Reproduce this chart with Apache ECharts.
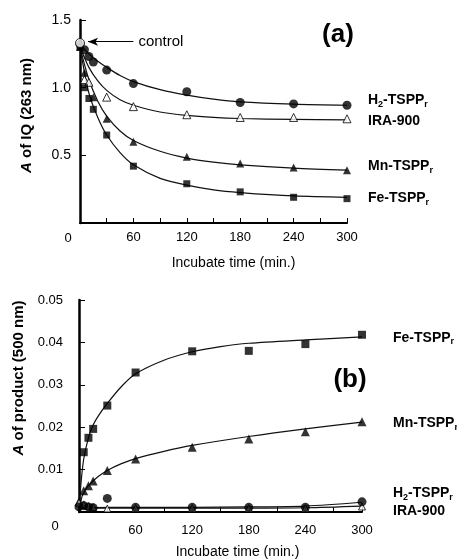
<!DOCTYPE html>
<html><head><meta charset="utf-8">
<script src="https://cdn.jsdelivr.net/npm/echarts@6/dist/echarts.min.js"></script>
<style>html,body{margin:0;padding:0;background:#fff}#c{width:457px;height:560px}</style>
</head><body><div id="c"></div>
<script>
// ---------- data ----------
// panel (a): absorbance of IQ at 263 nm vs incubation time (min)
const aControl = [[0, 1.33]];
const aH2  = [[0,1.32],[5,1.28],[10,1.23],[15,1.19],[30,1.13],[60,1.03],[120,0.97],[180,0.89],[240,0.88],[300,0.87]];
const aIRA = [[5,1.06],[10,1.04],[30,0.93],[60,0.86],[120,0.80],[180,0.78],[240,0.78],[300,0.77]];
const aMn  = [[0,1.30],[5,1.11],[15,0.93],[30,0.77],[60,0.60],[120,0.49],[180,0.44],[240,0.41],[300,0.39]];
const aFe  = [[0,1.30],[5,1.00],[10,0.92],[15,0.84],[30,0.65],[60,0.42],[120,0.29],[180,0.23],[240,0.19],[300,0.18]];
// fitted curves of panel (a)
const aH2Fit  = [[0,1.32],[10,1.25],[20,1.195],[30,1.15],[45,1.09],[60,1.045],[90,0.985],[120,0.945],[150,0.915],[180,0.895],[240,0.878],[300,0.87]];
const aIRAFit = [[0,1.30],[10,1.15],[20,1.05],[30,0.98],[45,0.91],[60,0.87],[90,0.82],[120,0.795],[150,0.78],[180,0.772],[240,0.765],[300,0.762]];
const aMnFit  = [[0,1.30],[10,1.06],[20,0.90],[30,0.79],[45,0.68],[60,0.61],[90,0.53],[120,0.48],[150,0.45],[180,0.43],[240,0.405],[300,0.39]];
const aFeFit  = [[0,1.30],[10,0.96],[20,0.78],[30,0.65],[45,0.52],[60,0.43],[90,0.33],[120,0.28],[150,0.245],[180,0.225],[240,0.20],[300,0.19]];

// panel (b): absorbance of product at 500 nm vs incubation time (min)
const bFe  = [[5,0.0141],[10,0.0175],[15,0.0196],[30,0.0251],[60,0.0329],[120,0.0379],[180,0.0380],[240,0.0396],[300,0.0418]];
const bMn  = [[0,0.0025],[5,0.0050],[10,0.0062],[15,0.0073],[30,0.0098],[60,0.0125],[120,0.0153],[180,0.0172],[240,0.0189],[300,0.0213]];
const bH2  = [[0,0.0012],[5,0.0015],[10,0.0012],[15,0.0010],[30,0.0032],[60,0.0011],[120,0.0011],[180,0.0011],[240,0.0011],[300,0.0024]];
const bIRA = [[0,0.0022],[5,0.0018],[10,0.0014],[15,0.0012],[30,0.0008],[60,0.0009],[120,0.0009],[180,0.0009],[240,0.0009],[300,0.0013]];
// fitted curves of panel (b)
const bFeFit  = [[0,0],[2,0.0065],[5,0.0125],[10,0.0175],[15,0.0205],[20,0.0225],[30,0.0256],[45,0.0296],[60,0.0326],[90,0.0358],[120,0.0378],[150,0.0390],[180,0.0398],[240,0.0406],[300,0.0413]];
const bMnFit  = [[0,0],[3,0.0035],[5,0.0045],[10,0.0062],[20,0.0083],[30,0.0098],[45,0.0114],[60,0.0126],[90,0.0143],[120,0.0157],[180,0.0178],[240,0.0196],[300,0.0212]];
const bH2Fit  = [[0,0.0010],[60,0.0011],[120,0.0011],[180,0.0012],[240,0.0014],[300,0.0023]];
const bIRAFit = [[0,0.0009],[60,0.0009],[120,0.0009],[180,0.0009],[240,0.0010],[300,0.0014]];

const xMajor = [60,120,180,240,300];
const aYTicks = [0.5,1.0,1.5];
const bYTicks = [0.01,0.02,0.03,0.04,0.05];

// ---------- chart ----------
const FONT = 'Liberation Sans, Arial, Helvetica, sans-serif';
const subRich = {
  m: {fontSize: 14, fontWeight: 'bold', fontFamily: FONT, color: '#000'},
  s: {fontSize: 9, fontWeight: 'bold', fontFamily: FONT, color: '#000', padding: [8,0,0,0]}
};
const LBL = {
  H2: '{m|H}{s|2}{m|-TSPP}{s|r}',
  IRA: '{m|IRA-900}',
  Mn: '{m|Mn-TSPP}{s|r}',
  Fe: '{m|Fe-TSPP}{s|r}'
};

function xAxisCfg(gridIndex, labelMargin, namePad) {
  return {
    type: 'value', gridIndex, min: 0, max: 300, interval: 30,
    name: 'Incubate time (min.)', nameLocation: 'middle', nameGap: 33,
    nameTextStyle: {fontFamily: FONT, fontSize: 14, color: '#000', padding: [0,0,0,namePad]},
    axisLine: {show: true, lineStyle: {color: '#000', width: 2}},
    axisTick: {show: true, inside: true, length: 5, lineStyle: {color: '#000', width: 1}},
    splitLine: {show: false},
    axisLabel: {
      color: '#000', fontFamily: FONT, fontSize: 13, margin: labelMargin,
      formatter: v => xMajor.includes(v) ? String(v) : ''
    }
  };
}

function fitLine(name, xi, data, label, dist, off) {
  return {
    type: 'line', name, xAxisIndex: xi, yAxisIndex: xi, data,
    symbol: 'none', showSymbol: false, smooth: 0.3,
    lineStyle: {color: '#111', width: 1.2}, z: 2, silent: true,
    endLabel: {show: true, formatter: label, distance: dist, offset: off, rich: subRich, color: '#000'}
  };
}
function pts(name, xi, data, symbol, size, filled) {
  return {
    type: 'scatter', name, xAxisIndex: xi, yAxisIndex: xi, data,
    symbol, symbolSize: size, z: 5, silent: true,
    itemStyle: filled ? {color: '#000'} : {color: '#fff', borderColor: '#000', borderWidth: 1}
  };
}

const option = {
  animation: false,
  backgroundColor: '#fff',
  textStyle: {fontFamily: FONT},
  grid: [
    {left: 80, top: 20, width: 267, height: 203},
    {left: 79, top: 300, width: 283, height: 213}
  ],
  xAxis: [xAxisCfg(0, 8, 40), xAxisCfg(1, 12, 34)],
  yAxis: [
    {
      type: 'value', gridIndex: 0, min: 0, max: 1.5, interval: 0.5,
      name: '{i|A} of IQ (263 nm)', nameLocation: 'middle', nameGap: 46,
      nameTextStyle: {fontFamily: FONT, fontSize: 15, fontWeight: 'bold', color: '#000', padding: [0,0,0,12],
        rich: {i: {fontFamily: FONT, fontSize: 15, fontWeight: 'bold', fontStyle: 'italic', color: '#000'}}},
      axisLine: {show: true, lineStyle: {color: '#000', width: 2.5}},
      axisTick: {show: true, inside: true, length: 6, lineStyle: {color: '#000', width: 1}},
      splitLine: {show: false},
      axisLabel: {color: '#000', fontFamily: FONT, fontSize: 14, margin: 9,
        formatter: v => aYTicks.some(t => Math.abs(t - v) < 1e-9) ? v.toFixed(1) : ''}
    },
    {
      type: 'value', gridIndex: 1, min: 0, max: 0.05, interval: 0.01,
      name: '{i|A} of product (500 nm)', nameLocation: 'middle', nameGap: 46,
      nameTextStyle: {fontFamily: FONT, fontSize: 15, fontWeight: 'bold', color: '#000', padding: [0,0,0,56],
        rich: {i: {fontFamily: FONT, fontSize: 15, fontWeight: 'bold', fontStyle: 'italic', color: '#000'}}},
      axisLine: {show: true, lineStyle: {color: '#000', width: 2.5}},
      axisTick: {show: true, inside: true, length: 6, lineStyle: {color: '#000', width: 1}},
      splitLine: {show: false},
      axisLabel: {color: '#000', fontFamily: FONT, fontSize: 13, margin: 16,
        formatter: v => { const t = bYTicks.find(t => Math.abs(t - v) < 1e-9); return t ? t.toFixed(2) : ''; }}
    }
  ],
  graphic: [
    {type: 'text', x: 338, y: 35, style: {text: '(a)', font: 'bold 26px ' + FONT, fill: '#000', align: 'center', verticalAlign: 'middle'}},
    {type: 'text', x: 350, y: 380, style: {text: '(b)', font: 'bold 26px ' + FONT, fill: '#000', align: 'center', verticalAlign: 'middle'}},
    {type: 'text', x: 68, y: 238, style: {text: '0', font: '13px ' + FONT, fill: '#000', align: 'center', verticalAlign: 'middle'}},
    {type: 'text', x: 55, y: 526, style: {text: '0', font: '13px ' + FONT, fill: '#000', align: 'center', verticalAlign: 'middle'}}
  ],
  series: [
    // panel (a) curves
    fitLine('H2-TSPPr fit', 0, aH2Fit, LBL.H2, 21, [0,-5]),
    fitLine('IRA-900 fit', 0, aIRAFit, LBL.IRA, 21, [0,1]),
    fitLine('Mn-TSPPr fit', 0, aMnFit, LBL.Mn, 21, [0,-4]),
    fitLine('Fe-TSPPr fit', 0, aFeFit, LBL.Fe, 21, [0,1]),
    // panel (a) points
    pts('H2-TSPPr', 0, aH2, 'circle', 9, true),
    pts('IRA-900', 0, aIRA, 'triangle', 8, false),
    pts('Mn-TSPPr', 0, aMn, 'triangle', 8, true),
    pts('Fe-TSPPr', 0, aFe, 'rect', 7, true),
    Object.assign(pts('control', 0, aControl, 'circle', 9, false), {
      z: 6,
      markLine: {
        silent: true, symbol: ['arrow', 'none'], symbolSize: [6, 10],
        lineStyle: {color: '#000', width: 1, type: 'solid'},
        label: {show: true, position: 'end', formatter: 'control', color: '#000', fontFamily: FONT, fontSize: 15, distance: 5},
        data: [[{coord: [9, 1.34]}, {coord: [60, 1.34]}]]
      }
    }),
    // panel (b) curves
    fitLine('Fe-TSPPr fit b', 1, bFeFit, LBL.Fe, 31, [0,1]),
    fitLine('Mn-TSPPr fit b', 1, bMnFit, LBL.Mn, 31, [0,1]),
    fitLine('H2-TSPPr fit b', 1, bH2Fit, LBL.H2, 31, [0,-9]),
    fitLine('IRA-900 fit b', 1, bIRAFit, LBL.IRA, 31, [0,5]),
    // panel (b) points
    pts('Fe-TSPPr b', 1, bFe, 'rect', 8, true),
    pts('Mn-TSPPr b', 1, bMn, 'triangle', 9, true),
    pts('IRA-900 b', 1, bIRA, 'triangle', 7, false),
    pts('H2-TSPPr b', 1, bH2, 'circle', 9, true)
  ]
};
const chart = echarts.init(document.getElementById('c'), null, {renderer: 'canvas'});
chart.setOption(option);
</script>
</body></html>
